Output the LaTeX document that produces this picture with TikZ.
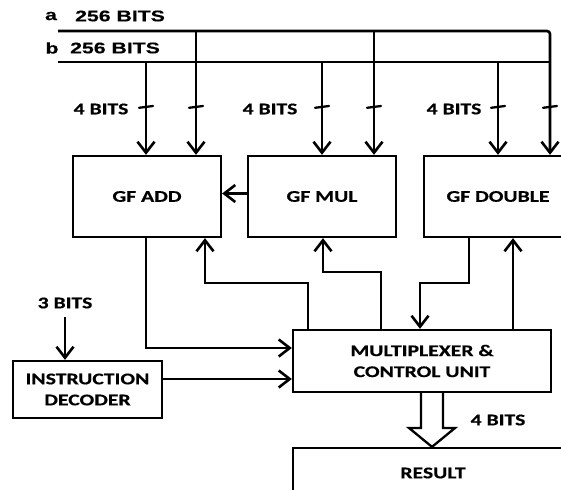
\documentclass[tikz,border=0pt]{standalone}
\usepackage{fontspec}
\newfontfamily\calfont[FakeStretch=1.33,FakeBold=0.5]{Carlito}
\newfontfamily\arifont[FakeStretch=1.37,FakeBold=0.3]{Liberation Sans}
\usetikzlibrary{arrows.meta,calc}
\begin{document}
\begin{tikzpicture}[x=1pt,y=-1pt,
  box/.style={draw,line width=2.3pt,inner sep=0pt,align=center,font=\calfont\bfseries\fontsize{16.3}{21}\selectfont},
  lbl/.style={inner sep=0pt,font=\calfont\bfseries\fontsize{16.3}{21}\selectfont},
  ab/.style={inner sep=0pt,font=\arifont\bfseries\fontsize{15.5}{18}\selectfont},
  wire/.style={line width=2.6pt},
  arr/.style={wire,-{Straight Barb[length=11pt,width=17pt]}},
  tickmark/.style={line width=2.3pt,line cap=round}]
\useasboundingbox (0,0) rectangle (561,489);
\clip (0,0) rectangle (561,489);

% boxes
\node[box,minimum width=148pt,minimum height=81pt] (add) at (147,196.5) {GF ADD};
\node[box,minimum width=148pt,minimum height=81pt] (mul) at (322,196.5) {GF MUL};
\node[box,minimum width=148pt,minimum height=81pt] (dbl) at (498,196.5) {GF DOUBLE};
\node[box,minimum width=258pt,minimum height=62pt] (mux) at (422,361) {MULTIPLEXER \&\\CONTROL UNIT};
\node[box,minimum width=149pt,minimum height=57pt] (dec) at (87.5,389.5) {INSTRUCTION\\DECODER};
\node[box,minimum width=280pt,minimum height=50pt] (res) at (433,473) {RESULT};

% labels
\node[ab] (la) at (51,16) {a};
\node[ab,anchor=west] (la2) at (75,16) {256 BITS};
\node[ab] (lb) at (52,48) {b};
\node[ab,anchor=west] (lb2) at (70,48) {256 BITS};
\node[lbl] (l4a) at (101,109) {4 BITS};
\node[lbl] (l4b) at (270,109) {4 BITS};
\node[lbl] (l4c) at (454,109) {4 BITS};
\node[lbl] (l3) at (65,303) {3 BITS};
\node[lbl] (l4r) at (498,420) {4 BITS};

% buses
\coordinate (aL) at (58,31);
\coordinate (bL) at (58,62);
\coordinate (bR) at (550,62);
\draw[arr,rounded corners=3pt] (aL) -| (dbl.north -| 550,0);
\draw[wire] (bL) -- (bR);

\draw[arr] (bL -| 146,0) -- (add.north -| 146,0);
\draw[arr] (aL -| 196,0) -- (add.north -| 196,0);
\draw[arr] (bL -| 322,0) -- (mul.north -| 322,0);
\draw[arr] (aL -| 374,0) -- (mul.north -| 374,0);
\draw[arr] (bL -| 498,0) -- (dbl.north -| 498,0);

\foreach \x in {146,196,322,374,498,550}
  \draw[tickmark] ({\x-7},107.8) -- ({\x+7},106);

% internal connections
\draw[arr] ([yshift=3pt]mul.west) -- ([yshift=3pt]add.east);
\draw[arr] (add.south -| 146,0) |- ([yshift=13pt]mux.west);
\coordinate (m2) at ([yshift=-18pt]mux.west);
\draw[arr] (dec.east |- m2) -- (m2);
\coordinate (t3) at (65,317);
\draw[arr] (t3) -- (dec.north -| t3);
\draw[arr] (mux.north -| 308,0) |- (205,283) -- (add.south -| 205,0);
\draw[arr] (mux.north -| 381,0) |- (323,272) -- (mul.south -| 323,0);
\draw[arr] (dbl.south -| 469,0) |- (420,283) -- (mux.north -| 420,0);
\draw[arr] (mux.north -| 513,0) -- (dbl.south -| 513,0);

% hollow output arrow
\draw[line width=2.3pt,fill=white] (mux.south -| 421,0) -- (421,428) -- (409,428) -- (res.north -| 432,0) -- (455,428) -- (443,428) -- (mux.south -| 443,0);
\end{tikzpicture}
\end{document}
